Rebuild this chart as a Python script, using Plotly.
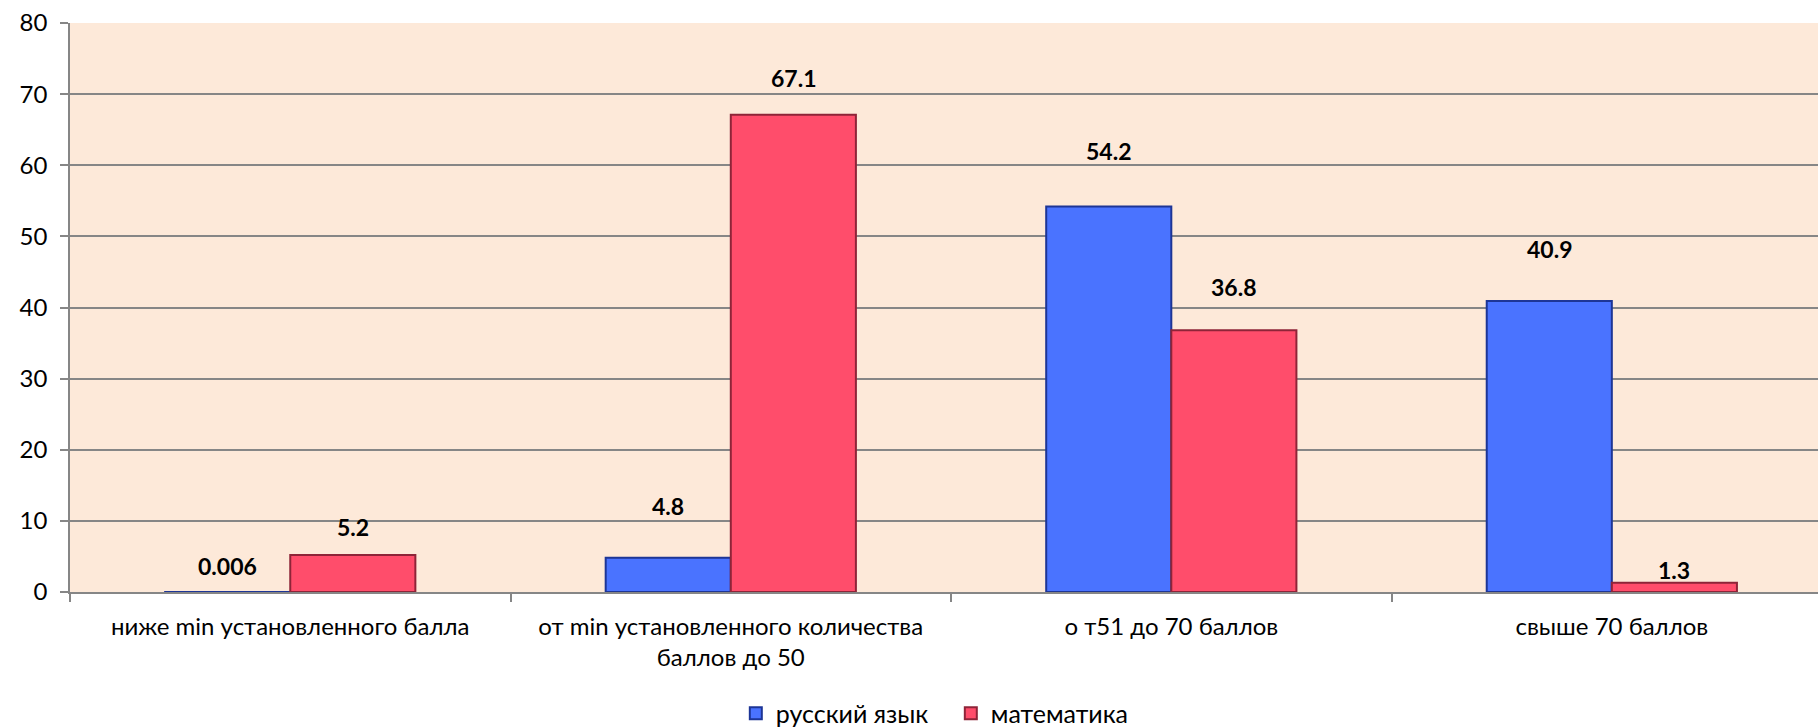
import plotly.graph_objects as go

categories = [
    "ниже min установленного балла",
    "от min установленного количества<br>баллов до 50",
    "о т51 до 70 баллов",
    "свыше 70 баллов",
]
rus_values = [0.006, 4.8, 54.2, 40.9]
math_values = [5.2, 67.1, 36.8, 1.3]
series_names = ["русский язык", "математика"]

# label vertical offsets (px above bar top), styling only
rus_label_shift = [26, 52, 56, 52]
math_label_shift = [28, 37, 43, 13]

W, H = 1818, 728
ML, MR, MT, MB = 70, 0, 23, 136
X_RANGE = [-0.5, 3.468]
BARGAP = 0.432
FONT = "Lato, Calibri, Carlito, sans-serif"

blue = "#4a73ff"
blue_edge = "#1d3596"
red = "#ff4d6b"
red_edge = "#8e2438"

fig = go.Figure()
fig.add_trace(go.Bar(
    x=categories, y=rus_values, name=series_names[0],
    marker=dict(color=blue, line=dict(color=blue_edge, width=2)),
))
fig.add_trace(go.Bar(
    x=categories, y=math_values, name=series_names[1],
    marker=dict(color=red, line=dict(color=red_edge, width=2)),
))

plot_w = W - ML - MR
cat_px = plot_w / (X_RANGE[1] - X_RANGE[0])
bar_px = cat_px * (1 - BARGAP) / 2
shift = bar_px / 2

annotations = []
for vals, shifts, sign in ((rus_values, rus_label_shift, -1), (math_values, math_label_shift, 1)):
    for cat, v, s in zip(categories, vals, shifts):
        annotations.append(dict(
            x=cat, y=v, xref="x", yref="y",
            text=f"<b>{v:g}</b>", showarrow=False,
            xshift=sign * shift, yshift=s, yanchor="middle",
            font=dict(size=23, color="black", family=FONT),
        ))

fig.update_layout(
    width=W, height=H,
    margin=dict(l=ML, r=MR, t=MT, b=MB, autoexpand=False),
    paper_bgcolor="white",
    plot_bgcolor="#fde9d9",
    barmode="group", bargap=BARGAP, bargroupgap=0,
    font=dict(family=FONT, size=24, color="black"),
    showlegend=True,
    legend=dict(orientation="h", xref="container", yref="container",
                x=0.523, xanchor="center", y=0.02, yanchor="middle",
                font=dict(size=25), tracegroupgap=0, entrywidth=170),
    annotations=annotations,
)
fig.update_xaxes(
    type="category", range=X_RANGE, tickson="boundaries", automargin=False,
    ticks="outside", ticklen=8, tickcolor="#868686", tickwidth=1.5,
    showline=True, linecolor="#868686", linewidth=1.5,
    showgrid=False, tickfont=dict(size=24), ticklabelstandoff=12,
)
fig.update_yaxes(
    range=[0, 80], dtick=10, ticks="outside", ticklen=8, automargin=False,
    tickcolor="#868686", tickwidth=1.5,
    showline=True, linecolor="#868686", linewidth=1.5,
    showgrid=True, gridcolor="#868686", gridwidth=1.5,
    zeroline=False, tickfont=dict(size=24), ticklabelstandoff=8,
)

fig.write_html(
    "out.html",
    config={"displayModeBar": False},
    post_script="document.body.style.margin='0';document.body.style.overflow='hidden';",
)
